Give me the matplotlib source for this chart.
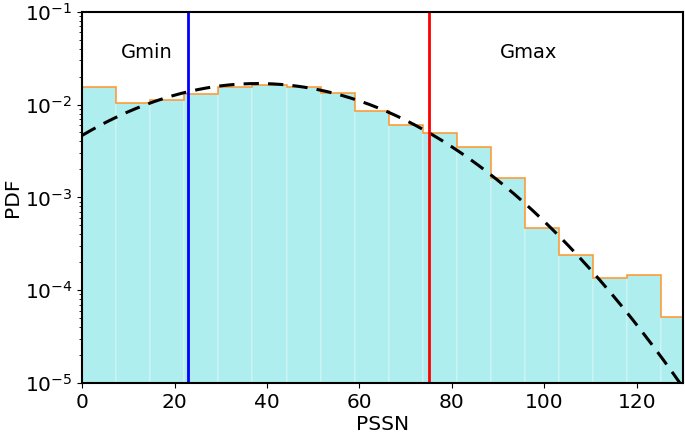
import numpy as np
import matplotlib
matplotlib.use("Agg")
import matplotlib.pyplot as plt

# Histogram data (PDF per bin)
bin_width = 7.37
bin_edges = [i * bin_width for i in range(19)]
pdf_values = [0.0156, 0.0105, 0.0113, 0.0129, 0.0155, 0.0164, 0.0156, 0.0132,
              0.0086, 0.00598, 0.00491, 0.00347, 0.00163, 4.63e-4, 2.41e-4,
              1.34e-4, 1.44e-4, 5.13e-5]

# Fitted normal distribution parameters
fit_mu = 38.0
fit_sigma = 23.7

# Thresholds
g_min = 23.0
g_max = 75.1

plt.rcParams['font.family'] = ['DejaVu Sans']
fig = plt.figure(figsize=(6.85, 4.34), dpi=100)
ax = fig.add_axes([0.12, 0.1175, 0.877, 0.8555])

lefts = bin_edges[:-1]
ax.bar(lefts, pdf_values, width=bin_width, align='edge', color='paleturquoise',
       edgecolor='white', linewidth=0.3)
ax.stairs(pdf_values, bin_edges, color='#ff8c1a', linewidth=1.2, alpha=0.85)

xs = np.linspace(0, 130, 400)
ys = np.exp(-(xs - fit_mu) ** 2 / (2 * fit_sigma ** 2)) / (np.sqrt(2 * np.pi) * fit_sigma)
ax.plot(xs, ys, 'k--', linewidth=2.2, dashes=(5, 3))

ax.axvline(g_min, color='blue', linewidth=2)
ax.axvline(g_max, color='red', linewidth=2)

ax.set_yscale('log')
ax.set_xlim(0, 130)
ax.set_ylim(1e-5, 1e-1)
ax.text(13.9, 10 ** -1.434, 'Gmin', ha='center', va='center', fontsize=14)
ax.text(96.6, 10 ** -1.434, 'Gmax', ha='center', va='center', fontsize=14)

ax.set_xlabel('PSSN', fontsize=14.5, labelpad=2)
ax.set_ylabel('PDF', fontsize=14.5, labelpad=2)
ax.tick_params(labelsize=14.5)
for s in ax.spines.values():
    s.set_linewidth(1.5)

fig.savefig('out.png', dpi=100)
